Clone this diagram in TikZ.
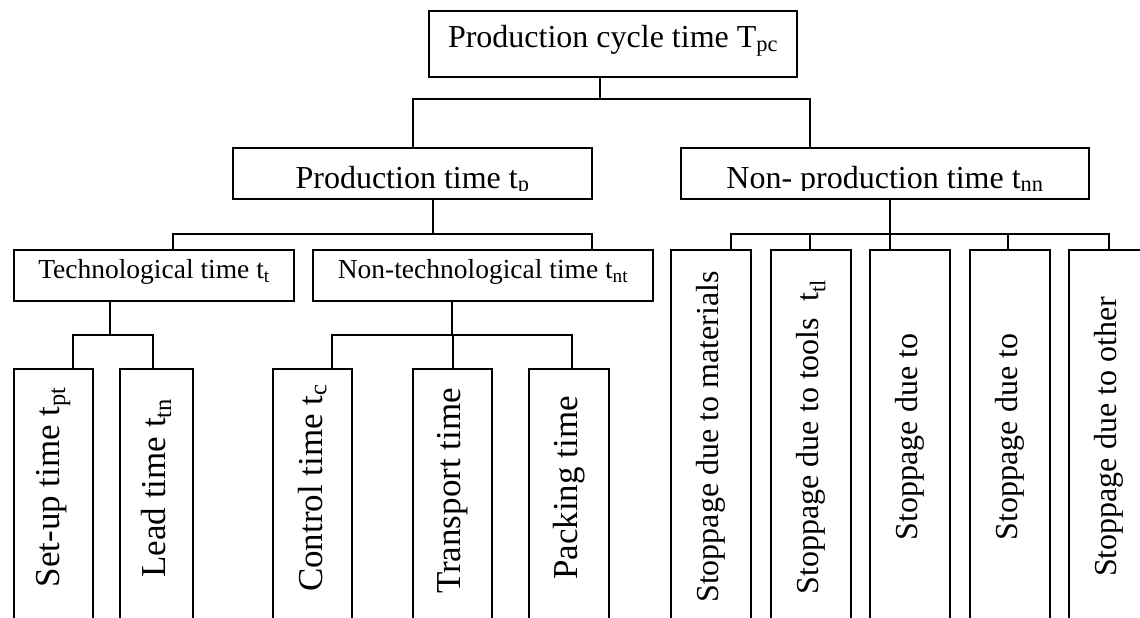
\documentclass[tikz,border=0pt]{standalone}
\usepackage{fontspec}
\setmainfont{Liberation Serif}
\usepackage{graphicx}

\begin{document}
\begin{tikzpicture}[x=1pt, y=-1pt, line width=2pt,
	box/.style = {draw, rectangle, inner sep=0pt, anchor=north west, text height=0.66em, text depth=0pt},
	cut/.style = {path picture={
		\clip ([yshift=9pt]path picture bounding box.south west) rectangle (path picture bounding box.north east);
		\node[anchor=base, font=\fontsize{32}{36}\selectfont] at ([yshift=11pt]path picture bounding box.south) {#1};}},
	vbox/.style = {draw, rectangle, inner sep=0pt, anchor=north west, minimum width=80pt}]
	\useasboundingbox (0,0) rectangle (1140,618);
	\clip (0,0) rectangle (1140,618);
	% boxes
	\node[box, minimum width=368pt, minimum height=66pt, font=\fontsize{32}{36}\selectfont] (tpc) at (428,10) {Production cycle time T\textsubscript{pc}};
	\node[box, minimum width=359pt, minimum height=51pt, cut={Production time t\textsubscript{p}}] (tp) at (232,147) {};
	\node[box, minimum width=408pt, minimum height=51pt, cut={Non- production time t\textsubscript{nn}}] (np) at (680,147) {};
	\node[box, minimum width=280pt, minimum height=51pt, font=\fontsize{27.5}{32}\selectfont] (tt) at (13,249) {Technological time t\textsubscript{t}};
	\node[box, minimum width=340pt, minimum height=51pt, font=\fontsize{27.5}{32}\selectfont] (tnt) at (312,249) {Non-technological time t\textsubscript{nt}};
	\node[vbox, minimum width=79pt, minimum height=282pt, text depth=46pt, font=\fontsize{35}{40}\selectfont] (su) at (13,368) {\rotatebox{90}{Set-up time t\textsubscript{pt}}};
	\node[vbox, minimum width=73pt, minimum height=282pt, text depth=44pt, font=\fontsize{35}{40}\selectfont] (ld) at (119,368) {\rotatebox{90}{Lead time t\textsubscript{tn}}};
	\node[vbox, minimum width=79pt, minimum height=282pt, text depth=44pt, font=\fontsize{35}{40}\selectfont] (tc) at (272,368) {\rotatebox{90}{Control time t\textsubscript{c}}};
	\node[vbox, minimum width=79pt, minimum height=282pt, text depth=38pt, font=\fontsize{35}{40}\selectfont] (tr) at (412,368) {\rotatebox{90}{Transport time}};
	\node[vbox, minimum height=282pt, text depth=44pt, font=\fontsize{35}{40}\selectfont] (pk) at (528,368) {\rotatebox{90}{Packing time}};
	\node[vbox, minimum height=401pt, text depth=27pt, font=\fontsize{32}{36}\selectfont] (s1) at (670,249) {\rotatebox{90}{Stoppage due to materials}};
	\node[vbox, minimum height=401pt, text depth=27pt, font=\fontsize{32}{36}\selectfont] (s2) at (770,249) {\rotatebox{90}{Stoppage due to tools~ t\textsubscript{tl}}};
	\node[vbox, minimum height=401pt, text depth=27pt, font=\fontsize{32}{36}\selectfont] (s3) at (869,249) {\rotatebox{90}{Stoppage due to}};
	\node[vbox, minimum height=401pt, text depth=27pt, font=\fontsize{32}{36}\selectfont] (s4) at (969,249) {\rotatebox{90}{Stoppage due to}};
	\node[vbox, minimum height=401pt, text depth=27pt, font=\fontsize{32}{36}\selectfont] (s5) at (1068,249) {\rotatebox{90}{Stoppage due to other}};
	% connectors
	\draw ([xshift=-13pt]tpc.south) -- ++(0,20.5) coordinate (b0);
	\draw (tp.north) |- (b0);
	\draw ([xshift=-75pt]np.north) |- (b0);
	\draw ([xshift=20.5pt]tp.south) -- ++(0,34) coordinate (b1);
	\draw ([xshift=19pt]tt.north) |- (b1);
	\draw ([xshift=109pt]tnt.north) |- (b1);
	\draw ([xshift=-44pt]tt.south) -- ++(0,33) coordinate (b2);
	\draw ([xshift=19.5pt]su.north) |- (b2);
	\draw ([xshift=-3.5pt]ld.north) |- (b2);
	\draw ([xshift=-31pt]tnt.south) -- ++(0,33) coordinate (b3);
	\draw ([xshift=19.5pt]tc.north) |- (b3);
	\draw (tr.north) |- (b3);
	\draw ([xshift=3pt]pk.north) |- (b3);
	\draw ([xshift=5pt]np.south) -- ++(0,34) coordinate (b4);
	\draw ([xshift=20pt]s1.north) |- (b4);
	\draw ([xshift=-1pt]s2.north) |- (b4);
	\draw ([xshift=-20pt]s3.north) |- (b4);
	\draw ([xshift=-2pt]s4.north) |- (b4);
	\draw (s5.north) |- (b4);
\end{tikzpicture}
\end{document}
